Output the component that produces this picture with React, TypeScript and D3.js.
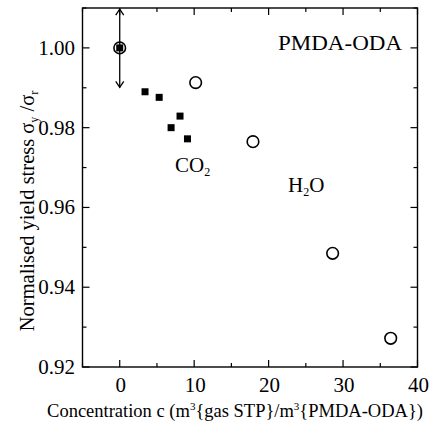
import React from "react";
import * as d3 from "d3";

const co2X = [3.4, 5.3, 6.9, 8.1, 9.1, 0];
const co2Y = [0.989, 0.9876, 0.98, 0.9829, 0.9772, 1.0];
const h2oX = [0, 10.2, 17.9, 28.6, 36.4];
const h2oY = [1.0, 0.9913, 0.9765, 0.9485, 0.9272];
const xMajor = [0, 10, 20, 30, 40];
const xMinor = [-5, 5, 15, 25, 35];
const yMajor = [0.92, 0.94, 0.96, 0.98, 1.0];
const yMinor = [0.93, 0.95, 0.97, 0.99, 1.01];
const errX = 0;
const errLow = 0.9901;
const errHigh = 1.0097;

const W = 430;
const H = 432;
const L = 82.5;
const R = 417.5;
const T = 8;
const B = 367;
const FONT = "Liberation Serif";
const ts = { fontFamily: FONT };

export default function App() {
  const x = d3.scaleLinear().domain([-5, 40]).range([L, R]);
  const y = d3.scaleLinear().domain([0.92, 1.01]).range([B, T]);
  const fmt = d3.format(".2f");
  const major = 7;
  const minor = 4;
  const ex = x(errX);
  const yTop = y(errHigh);
  const yBot = y(errLow);
  return (
    <svg width={W} height={H} style={{ position: "absolute", left: 0, top: 0, background: "#fff", fontFamily: FONT }}>
      <rect x={0} y={0} width={W} height={H} fill="#fff" />
      <rect x={L} y={T} width={R - L} height={B - T} fill="none" stroke="#000" strokeWidth={1.4} />
      {xMajor.map((v) => (
        <g key={"xm" + v}>
          <line x1={x(v)} x2={x(v)} y1={B} y2={B - major} stroke="#000" strokeWidth={1.2} />
          <line x1={x(v)} x2={x(v)} y1={T} y2={T + major} stroke="#000" strokeWidth={1.2} />
          <text style={ts} x={x(v) + 1} y={B + 25} textAnchor="middle" fontSize={21}>{v}</text>
        </g>
      ))}
      {xMinor.map((v) => (
        <g key={"xn" + v}>
          <line x1={x(v)} x2={x(v)} y1={B} y2={B - minor} stroke="#000" strokeWidth={1.2} />
          <line x1={x(v)} x2={x(v)} y1={T} y2={T + minor} stroke="#000" strokeWidth={1.2} />
        </g>
      ))}
      {yMajor.map((v) => (
        <g key={"ym" + v}>
          <line x1={L} x2={L + major} y1={y(v)} y2={y(v)} stroke="#000" strokeWidth={1.2} />
          <line x1={R} x2={R - major} y1={y(v)} y2={y(v)} stroke="#000" strokeWidth={1.2} />
          <text style={ts} x={75} y={y(v) + 7} textAnchor="end" fontSize={21}>{fmt(v)}</text>
        </g>
      ))}
      {yMinor.map((v) => (
        <g key={"yn" + v}>
          <line x1={L} x2={L + minor} y1={y(v)} y2={y(v)} stroke="#000" strokeWidth={1.2} />
          <line x1={R} x2={R - minor} y1={y(v)} y2={y(v)} stroke="#000" strokeWidth={1.2} />
        </g>
      ))}
      <line x1={ex} x2={ex} y1={yTop} y2={yBot} stroke="#000" strokeWidth={1.3} />
      <path d={`M${ex - 4},${yTop + 6} L${ex},${yTop} L${ex + 4},${yTop + 6}`} fill="none" stroke="#000" strokeWidth={1.3} />
      <path d={`M${ex - 4},${yBot - 6} L${ex},${yBot} L${ex + 4},${yBot - 6}`} fill="none" stroke="#000" strokeWidth={1.3} />
      {h2oX.map((v, i) => (
        <circle key={"h" + i} cx={x(v)} cy={y(h2oY[i])} r={5.8} fill="none" stroke="#000" strokeWidth={1.6} />
      ))}
      {co2X.map((v, i) => (
        <rect key={"c" + i} x={x(v) - 3.5} y={y(co2Y[i]) - 3.5} width={7} height={7} fill="#000" />
      ))}
      <text style={ts} x={278} y={50} fontSize={22} textLength={124} lengthAdjust="spacingAndGlyphs">PMDA-ODA</text>
      <text style={ts} x={175} y={172} fontSize={21}>CO<tspan fontSize={12} dy={4}>2</tspan></text>
      <text style={ts} x={288} y={192} fontSize={21}>H<tspan fontSize={12} dy={4}>2</tspan><tspan dy={-4}>O</tspan></text>
      <text style={ts} transform={`translate(34,${211}) rotate(-90)`} textAnchor="middle" fontSize={20.5}>
        Normalised yield stress σ<tspan fontSize={12} dy={4}>y</tspan><tspan dy={-4}> /σ</tspan><tspan fontSize={12} dy={4}>r</tspan>
      </text>
      <text style={ts} x={235} y={417} textAnchor="middle" fontSize={18.5}>
        Concentration c (m<tspan fontSize={11} dy={-7}>3</tspan><tspan dy={7}>{"{gas STP}/m"}</tspan><tspan fontSize={11} dy={-7}>3</tspan><tspan dy={7}>{"{PMDA-ODA})"}</tspan>
      </text>
    </svg>
  );
}
